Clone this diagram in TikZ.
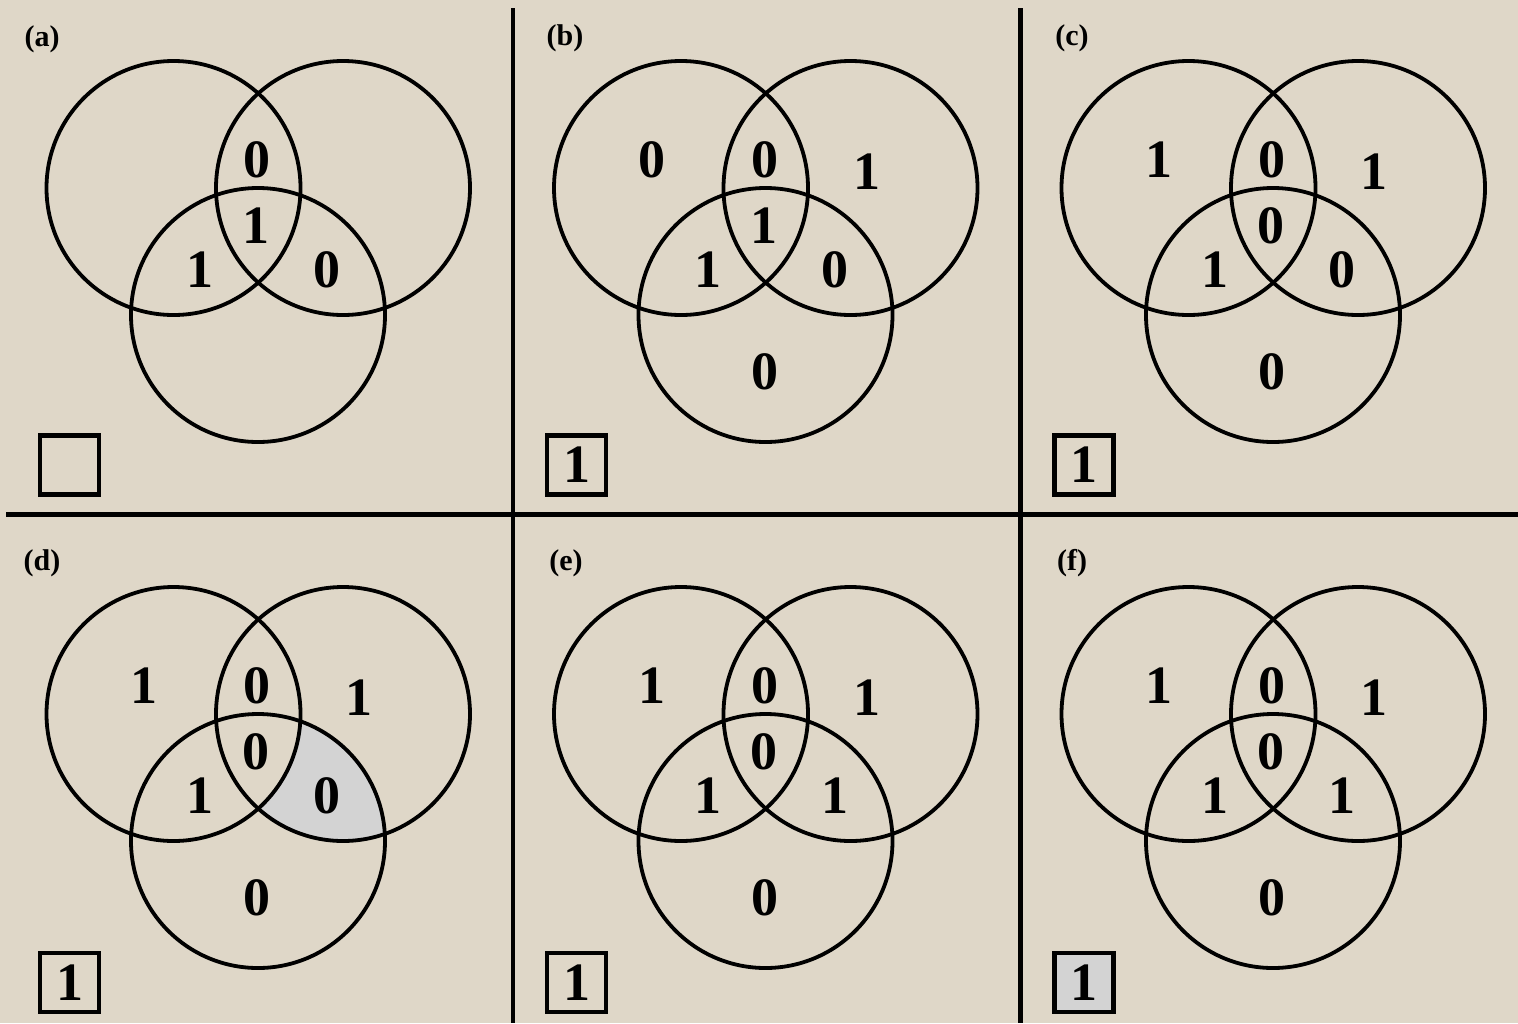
\documentclass[tikz,border=0pt]{standalone}
\usepackage{fontspec}
\setmainfont{Liberation Serif}
\usepackage{xcolor}
\usepackage{tikz}
\usetikzlibrary{positioning}

\definecolor{paper}{RGB}{223,215,200}
\definecolor{shadegray}{RGB}{211,211,211}

\begin{document}
\begin{tikzpicture}[
    x=1pt, y=-1pt,
    ring/.style={circle, draw, line width=3.8pt, minimum size=254pt, inner sep=0pt},
    bit/.style={font=\fontsize{54}{54}\selectfont\bfseries, inner sep=0pt},
    tag/.style={font=\fontsize{30}{30}\selectfont\bfseries, inner sep=0pt},
    result/.style={rectangle, draw, line width=4.2pt, minimum size=59pt, inner sep=0pt, font=\fontsize{54}{54}\selectfont\bfseries},
    divider/.style={line width=4.5pt}
]

\fill[paper] (0,0) rectangle (1518,1023);
\useasboundingbox (0,0) rectangle (1518,1023);

% frame lines
\coordinate (v1t) at (513,8);
\coordinate (v1b) at (513,1023);
\coordinate (v2t) at (1020.5,8);
\coordinate (v2b) at (1020.5,1023);
\coordinate (hl) at (6,514.5);
\coordinate (hr) at (1518,514.5);
\draw[divider] (v1t) -- (v1b);
\draw[divider] (v2t) -- (v2b);
\draw[divider] (hl) -- (hr);

% (a)
\begin{scope}[shift={(0,0)}]
\node[ring] (aL) at (173.5,188) {};
\node[ring] (aR) at (343,188) {};
\node[ring] (aB) at (258,315) {};
\node[bit] (aT) at (257,160) {0};
\node[bit] (aC) at (256,226) {1};
\node[bit] (aLB) at (200,270) {1};
\node[bit] (aRB) at (327,270) {0};
\end{scope}

% (b)
\begin{scope}[shift={(507.5,0)}]
\node[ring] (bL) at (173.5,188) {};
\node[ring] (bR) at (343,188) {};
\node[ring] (bB) at (258,315) {};
\node[bit] (bLo) at (144,160) {0};
\node[bit] (bT) at (257,160) {0};
\node[bit] (bRo) at (359,172) {1};
\node[bit] (bC) at (256,226) {1};
\node[bit] (bLB) at (200,270) {1};
\node[bit] (bRB) at (327,270) {0};
\node[bit] (bBo) at (257,372) {0};
\end{scope}

% (c)
\begin{scope}[shift={(1015,0)}]
\node[ring] (cL) at (173.5,188) {};
\node[ring] (cR) at (343,188) {};
\node[ring] (cB) at (258,315) {};
\node[bit] (cLo) at (144,160) {1};
\node[bit] (cT) at (257,160) {0};
\node[bit] (cRo) at (359,172) {1};
\node[bit] (cC) at (256,226) {0};
\node[bit] (cLB) at (200,270) {1};
\node[bit] (cRB) at (327,270) {0};
\node[bit] (cBo) at (257,372) {0};
\end{scope}

% (d)
\begin{scope}[shift={(0,526)}]
\begin{scope}
\clip (343,188) circle (127);
\clip (258,315) circle (127);
\fill[shadegray, even odd rule] (258,315) circle (127) (173.5,188) circle (127);
\end{scope}
\node[ring] (dL) at (173.5,188) {};
\node[ring] (dR) at (343,188) {};
\node[ring] (dB) at (258,315) {};
\node[bit] (dLo) at (144,160) {1};
\node[bit] (dT) at (257,160) {0};
\node[bit] (dRo) at (359,172) {1};
\node[bit] (dC) at (256,226) {0};
\node[bit] (dLB) at (200,270) {1};
\node[bit] (dRB) at (327,270) {0};
\node[bit] (dBo) at (257,372) {0};
\end{scope}

% (e)
\begin{scope}[shift={(507.5,526)}]
\node[ring] (eL) at (173.5,188) {};
\node[ring] (eR) at (343,188) {};
\node[ring] (eB) at (258,315) {};
\node[bit] (eLo) at (144,160) {1};
\node[bit] (eT) at (257,160) {0};
\node[bit] (eRo) at (359,172) {1};
\node[bit] (eC) at (256,226) {0};
\node[bit] (eLB) at (200,270) {1};
\node[bit] (eRB) at (327,270) {1};
\node[bit] (eBo) at (257,372) {0};
\end{scope}

% (f)
\begin{scope}[shift={(1015,526)}]
\node[ring] (fL) at (173.5,188) {};
\node[ring] (fR) at (343,188) {};
\node[ring] (fB) at (258,315) {};
\node[bit] (fLo) at (144,160) {1};
\node[bit] (fT) at (257,160) {0};
\node[bit] (fRo) at (359,172) {1};
\node[bit] (fC) at (256,226) {0};
\node[bit] (fLB) at (200,270) {1};
\node[bit] (fRB) at (327,270) {1};
\node[bit] (fBo) at (257,372) {0};
\end{scope}

% panel tags
\node[tag] (ta) at (42,39) {(a)};
\node[tag] (tb) at (565,38) {(b)};
\node[tag] (tc) at (1072,38) {(c)};
\node[tag] (td) at (42,563) {(d)};
\node[tag] (te) at (566,563) {(e)};
\node[tag] (tf) at (1072,563) {(f)};

% result boxes
\node[result] (ra) at (69.5,465) {};
\node[result] (rb) at (576.5,465) {1};
\node[result] (rc) at (1084,465) {1};
\node[result] (rd) at (69.5,982.5) {1};
\node[result] (re) at (576.5,982.5) {1};
\node[result, fill=shadegray] (rf) at (1084,982.5) {1};

\end{tikzpicture}
\end{document}
